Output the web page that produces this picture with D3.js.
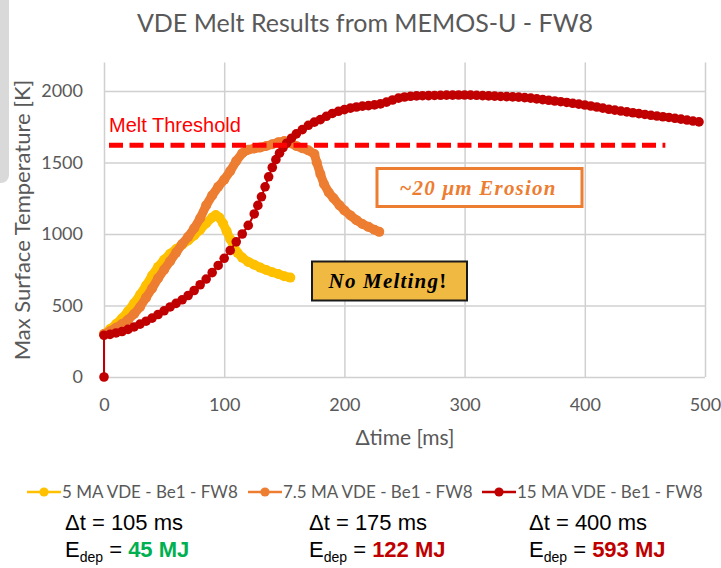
<!DOCTYPE html>
<html>
<head>
<meta charset="utf-8">
<script src="https://cdn.jsdelivr.net/npm/d3@7"></script>
<style>
  html, body { margin: 0; padding: 0; background: #fff; }
  svg { display: block; }
</style>
</head>
<body>
<svg id="chart" width="721" height="568"></svg>
<script>
// ---- data ---------------------------------------------------------------
const seriesNames = ["5 MA VDE - Be1 - FW8", "7.5 MA VDE - Be1 - FW8", "15 MA VDE - Be1 - FW8"];
const seriesColors = ["#FFC000", "#ED7D31", "#C00000"];

// 5 MA VDE: time [ms] / max surface temperature [K]
const time5 = [0, 5, 10, 15, 20, 25, 30, 35, 40, 45, 50, 55, 60, 65, 70, 75, 80, 85, 90, 93,
  96, 99, 102, 105, 108, 111, 115, 120, 125, 130, 135, 140, 145, 150, 155];
const temp5 = [300, 335, 370, 410, 460, 515, 575, 640, 710, 770, 820, 862, 895, 925, 955, 990, 1030, 1075, 1115, 1132,
  1115, 1075, 1020, 965, 915, 870, 835, 805, 785, 765, 748, 733, 720, 705, 695];

// 7.5 MA VDE
const time75 = [0, 5, 10, 15, 20, 25, 30, 35, 40, 45, 50, 55, 60, 65, 70, 75, 80, 85, 90, 95,
  100, 105, 110, 115, 120, 125, 130, 135, 140, 145, 150, 155, 160, 165, 170, 175,
  177, 180, 183, 187, 191, 196, 200, 205, 210, 215, 220, 225, 229];
const temp75 = [300, 320, 345, 370, 400, 440, 490, 555, 620, 690, 750, 810, 870, 930, 980, 1040, 1110, 1200, 1270, 1330,
  1380, 1440, 1510, 1565, 1590, 1598, 1605, 1615, 1628, 1642, 1650, 1635, 1615, 1600, 1585, 1560,
  1500, 1420, 1350, 1290, 1250, 1200, 1165, 1130, 1097, 1070, 1050, 1030, 1015];

// 15 MA VDE
const time15 = [0, 0, 5, 10, 15, 20, 25, 30, 35, 40, 45, 50, 55, 60, 65, 70, 75, 80, 85, 90, 95,
  100, 105, 110, 115, 120, 125, 128, 131, 134, 137, 140, 143, 146, 149, 152, 156, 160, 165,
  170, 175, 180, 185, 190, 195, 200, 205, 210, 215, 220, 225, 230, 235, 240, 245, 250,
  255, 260, 265, 270, 275, 280, 285, 290, 295, 300, 305, 310, 315, 320, 325, 330, 335, 340,
  345, 350, 355, 360, 365, 370, 375, 380, 385, 390, 395, 400, 405, 410, 415, 420, 425, 430,
  435, 440, 445, 450, 455, 460, 465, 470, 475, 480, 485, 490, 495];
const temp15 = [0, 292, 298, 308, 318, 333, 350, 370, 390, 412, 437, 463, 490, 515, 540, 570, 605, 645, 685, 730, 780,
  830, 885, 945, 1000, 1060, 1140, 1200, 1260, 1330, 1400, 1465, 1520, 1565, 1605, 1635, 1670, 1700, 1730,
  1760, 1782, 1800, 1823, 1843, 1858, 1870, 1880, 1888, 1894, 1898, 1903, 1910, 1922, 1937, 1950, 1958,
  1963, 1966, 1967, 1968, 1969, 1970, 1971, 1971, 1972, 1972, 1971, 1970, 1968, 1966, 1964, 1962, 1961, 1959,
  1957, 1954, 1950, 1945, 1940, 1935, 1930, 1925, 1920, 1914, 1908, 1902, 1895, 1888, 1880, 1872, 1866, 1860,
  1854, 1848, 1842, 1836, 1830, 1825, 1820, 1815, 1809, 1803, 1797, 1790, 1784];

const xTicks = [0, 100, 200, 300, 400, 500];
const yTicks = [0, 500, 1000, 1500, 2000];
const meltThreshold = 1620;   // K
const meltThresholdEnd = 467; // ms

const pulseLabels = ["105 ms", "175 ms", "400 ms"];
const energyLabels = ["45 MJ", "122 MJ", "593 MJ"];
const energyColors = ["#00B050", "#C00000", "#C00000"];

// ---- layout -------------------------------------------------------------
const svg = d3.select("#chart");
const x = d3.scaleLinear().domain([0, 500]).range([104, 705]);
const y = d3.scaleLinear().domain([0, 2200]).range([377, 62.4]);
const gridColor = "#D0D0D0";
const axisTextColor = "#595959";
const calibri = "Lato, 'Open Sans', sans-serif";

// side panel edge at the top left
svg.append("rect")
  .attr("x", -12).attr("y", -10).attr("width", 21).attr("height", 193)
  .attr("rx", 8).attr("fill", "#D9D9D9");

// title
svg.append("text")
  .attr("x", 365).attr("y", 32)
  .attr("text-anchor", "middle")
  .attr("font-family", calibri).attr("font-size", 25)
  .attr("fill", axisTextColor)
  .text("VDE Melt Results from MEMOS-U - FW8");

// gridlines
const grid = svg.append("g");
grid.append("g")
  .attr("transform", `translate(0,${y(0)})`)
  .call(d3.axisBottom(x).tickValues(xTicks).tickSize(-(y(0) - y.range()[1])).tickFormat(""))
  .call(g => g.select(".domain").remove())
  .call(g => g.selectAll("line").attr("stroke", gridColor).attr("stroke-width", 1.5));
grid.append("g")
  .attr("transform", `translate(${x(0)},0)`)
  .call(d3.axisLeft(y).tickValues(yTicks).tickSize(-(x(500) - x(0))).tickFormat(""))
  .call(g => g.select(".domain").remove())
  .call(g => g.selectAll("line").attr("stroke", gridColor).attr("stroke-width", 1.5));

// tick labels
svg.append("g")
  .attr("transform", `translate(${x(0) - 21},0)`)
  .call(d3.axisLeft(y).tickValues(yTicks).tickFormat(d3.format("d")).tickSize(0).tickPadding(0))
  .call(g => g.select(".domain").remove())
  .call(g => g.selectAll("text").attr("font-family", calibri).attr("font-size", 18).attr("fill", axisTextColor));
svg.append("g")
  .attr("transform", `translate(0,${y(0) + 21})`)
  .call(d3.axisBottom(x).tickValues(xTicks).tickFormat(d3.format("d")).tickSize(0).tickPadding(0))
  .call(g => g.select(".domain").remove())
  .call(g => g.selectAll("text").attr("font-family", calibri).attr("font-size", 18).attr("fill", axisTextColor));

// axis titles
svg.append("text")
  .attr("transform", "translate(30,220) rotate(-90)")
  .attr("text-anchor", "middle")
  .attr("font-family", calibri).attr("font-size", 22)
  .attr("fill", axisTextColor)
  .text("Max Surface Temperature [K]");
svg.append("text")
  .attr("x", 405).attr("y", 445)
  .attr("text-anchor", "middle")
  .attr("font-family", calibri).attr("font-size", 21)
  .attr("fill", axisTextColor)
  .text("\u0394time [ms]");

// ---- series -------------------------------------------------------------
const series = [
  { t: time5, v: temp5, lw: 9, r: 5 },
  { t: time75, v: temp75, lw: 9, r: 5 },
  { t: time15, v: temp15, lw: 2, r: 4.8 }
].map((s, i) => ({ ...s, name: seriesNames[i], color: seriesColors[i],
  pts: s.t.map((tt, k) => [tt, s.v[k]]) }));

const line = d3.line().x(d => x(d[0])).y(d => y(d[1]));
const plot = svg.append("g");

function drawSeries(s) {
  const g = plot.append("g");
  g.append("path")
    .attr("d", line(s.pts))
    .attr("fill", "none")
    .attr("stroke", s.color)
    .attr("stroke-width", s.lw)
    .attr("stroke-linejoin", "round")
    .attr("stroke-linecap", "round");
  g.selectAll("circle").data(s.pts).join("circle")
    .attr("cx", d => x(d[0])).attr("cy", d => y(d[1]))
    .attr("r", s.r).attr("fill", s.color);
}
drawSeries(series[0]);
drawSeries(series[1]);

// melt threshold
svg.append("line")
  .attr("x1", x(0) + 5).attr("x2", x(meltThresholdEnd))
  .attr("y1", y(meltThreshold)).attr("y2", y(meltThreshold))
  .attr("stroke", "#FF0000").attr("stroke-width", 5)
  .attr("stroke-dasharray", "14 6.5");
svg.append("text")
  .attr("x", x(0) + 5).attr("y", y(meltThreshold) - 13)
  .attr("font-family", "'Liberation Sans', Arial, sans-serif").attr("font-size", 20)
  .attr("fill", "#FF0000")
  .text("Melt Threshold");

drawSeries(series[2]);

// ---- annotation boxes ---------------------------------------------------
const serif = "'Liberation Serif', 'DejaVu Serif', serif";
svg.append("rect")
  .attr("x", 377).attr("y", 168.5).attr("width", 205).attr("height", 38)
  .attr("fill", "#fff").attr("stroke", "#ED7D31").attr("stroke-width", 3);
svg.append("text")
  .attr("x", 478).attr("y", 195)
  .attr("text-anchor", "middle")
  .attr("font-family", serif).attr("font-size", 21)
  .attr("font-weight", "bold").attr("font-style", "italic")
  .attr("fill", "#ED7D31").attr("letter-spacing", 1.2)
  .text("~20 \u03BCm Erosion");

svg.append("rect")
  .attr("x", 312).attr("y", 261.5).attr("width", 155).attr("height", 39)
  .attr("fill", "#F0B942").attr("stroke", "#1a1a1a").attr("stroke-width", 2);
const noMelt = svg.append("text")
  .attr("x", 388).attr("y", 288)
  .attr("text-anchor", "middle")
  .attr("font-family", serif).attr("font-size", 21)
  .attr("font-weight", "bold")
  .attr("fill", "#000").attr("letter-spacing", 1.2);
noMelt.append("tspan").attr("font-style", "italic").text("No Melting");
noMelt.append("tspan").text("!");

// ---- legend -------------------------------------------------------------
const legendX = [27, 248, 482];
const legend = svg.append("g");
series.forEach((s, i) => {
  const g = legend.append("g").attr("transform", `translate(${legendX[i]},492)`);
  g.append("line").attr("x1", 0).attr("x2", 34).attr("stroke", s.color).attr("stroke-width", 2.5);
  g.append("circle").attr("cx", 17).attr("r", 4.6).attr("fill", s.color);
  g.append("text")
    .attr("x", 35).attr("y", 6)
    .attr("font-family", calibri).attr("font-size", 17)
    .attr("fill", axisTextColor)
    .text(s.name);
});

// ---- pulse duration / deposited energy ----------------------------------
const infoX = [65, 309, 529];
const arial = "'Liberation Sans', Arial, sans-serif";
pulseLabels.forEach((p, i) => {
  svg.append("text")
    .attr("x", infoX[i]).attr("y", 530)
    .attr("font-family", arial).attr("font-size", 22).attr("fill", "#000")
    .text("\u0394t = " + p);
  const e = svg.append("text")
    .attr("x", infoX[i]).attr("y", 557)
    .attr("font-family", arial).attr("font-size", 22).attr("fill", "#000");
  e.append("tspan").text("E");
  e.append("tspan").attr("font-size", 14).attr("dy", 5).text("dep");
  e.append("tspan").attr("dy", -5).text(" = ");
  e.append("tspan").attr("font-weight", "bold").attr("fill", energyColors[i]).text(energyLabels[i]);
});
</script>
</body>
</html>
